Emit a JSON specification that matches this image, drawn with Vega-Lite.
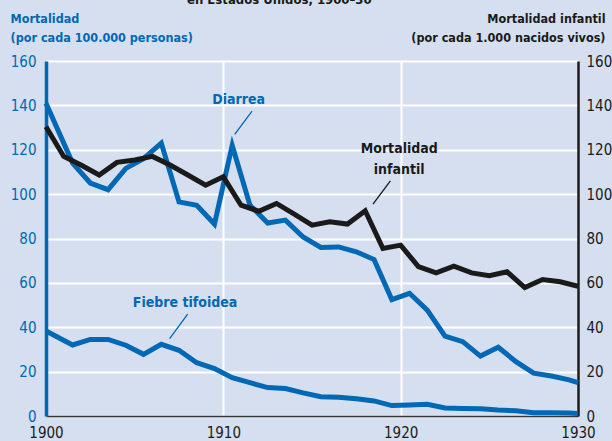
{
  "$schema": "https://vega.github.io/schema/vega-lite/v6.json",
  "width": 532,
  "height": 355,
  "autosize": "none",
  "padding": {"left": 46, "top": 61, "right": 34, "bottom": 25},
  "background": "#d5dff0",
  "title": {
    "text": "en Estados Unidos, 1900–30",
    "anchor": "start",
    "frame": "group",
    "dx": 141,
    "dy": 9,
    "offset": 1,
    "baseline": "bottom",
    "font": "DejaVu Sans Condensed, sans-serif",
    "fontSize": 13,
    "fontWeight": "bold",
    "color": "#1a1a1a"
  },
  "config": {
    "view": {"stroke": null},
    "font": "DejaVu Sans Condensed, sans-serif",
    "axis": {
      "labelFont": "DejaVu Sans Condensed, sans-serif",
      "labelFontSize": 15,
      "ticks": false,
      "gridColor": "#ffffff",
      "gridWidth": 2,
      "gridOpacity": 1
    }
  },
  "datasets": {
    "blue": [
      {"series": "Diarrea", "year": 1900, "value": 141},
      {"series": "Diarrea", "year": 1901.5, "value": 114},
      {"series": "Diarrea", "year": 1902.5, "value": 105},
      {"series": "Diarrea", "year": 1903.5, "value": 102},
      {"series": "Diarrea", "year": 1904.5, "value": 111.6},
      {"series": "Diarrea", "year": 1905.5, "value": 116},
      {"series": "Diarrea", "year": 1906.5, "value": 123},
      {"series": "Diarrea", "year": 1907.5, "value": 96.5},
      {"series": "Diarrea", "year": 1908.5, "value": 95},
      {"series": "Diarrea", "year": 1909.5, "value": 86.5},
      {"series": "Diarrea", "year": 1910.5, "value": 122},
      {"series": "Diarrea", "year": 1911.5, "value": 95},
      {"series": "Diarrea", "year": 1912.5, "value": 87},
      {"series": "Diarrea", "year": 1913.5, "value": 88.3},
      {"series": "Diarrea", "year": 1914.5, "value": 80.7},
      {"series": "Diarrea", "year": 1915.5, "value": 76},
      {"series": "Diarrea", "year": 1916.5, "value": 76.2},
      {"series": "Diarrea", "year": 1917.5, "value": 74},
      {"series": "Diarrea", "year": 1918.5, "value": 70.5},
      {"series": "Diarrea", "year": 1919.5, "value": 52.5},
      {"series": "Diarrea", "year": 1920.5, "value": 55.3},
      {"series": "Diarrea", "year": 1921.5, "value": 47.7},
      {"series": "Diarrea", "year": 1922.5, "value": 36},
      {"series": "Diarrea", "year": 1923.5, "value": 33.5},
      {"series": "Diarrea", "year": 1924.5, "value": 27},
      {"series": "Diarrea", "year": 1925.5, "value": 31},
      {"series": "Diarrea", "year": 1926.5, "value": 24.5},
      {"series": "Diarrea", "year": 1927.5, "value": 19.3},
      {"series": "Diarrea", "year": 1928.5, "value": 18},
      {"series": "Diarrea", "year": 1929.5, "value": 16.3},
      {"series": "Diarrea", "year": 1930, "value": 15},
      {"series": "Fiebre tifoidea", "year": 1900, "value": 38.3},
      {"series": "Fiebre tifoidea", "year": 1901.5, "value": 32},
      {"series": "Fiebre tifoidea", "year": 1902.5, "value": 34.5},
      {"series": "Fiebre tifoidea", "year": 1903.5, "value": 34.5},
      {"series": "Fiebre tifoidea", "year": 1904.5, "value": 31.9},
      {"series": "Fiebre tifoidea", "year": 1905.5, "value": 27.8},
      {"series": "Fiebre tifoidea", "year": 1906.5, "value": 32.3},
      {"series": "Fiebre tifoidea", "year": 1907.5, "value": 29.6},
      {"series": "Fiebre tifoidea", "year": 1908.5, "value": 24},
      {"series": "Fiebre tifoidea", "year": 1909.5, "value": 21.4},
      {"series": "Fiebre tifoidea", "year": 1910.5, "value": 17.3},
      {"series": "Fiebre tifoidea", "year": 1911.5, "value": 15},
      {"series": "Fiebre tifoidea", "year": 1912.5, "value": 12.8},
      {"series": "Fiebre tifoidea", "year": 1913.5, "value": 12.4},
      {"series": "Fiebre tifoidea", "year": 1914.5, "value": 10.4},
      {"series": "Fiebre tifoidea", "year": 1915.5, "value": 8.7},
      {"series": "Fiebre tifoidea", "year": 1916.5, "value": 8.5},
      {"series": "Fiebre tifoidea", "year": 1917.5, "value": 7.8},
      {"series": "Fiebre tifoidea", "year": 1918.5, "value": 6.8},
      {"series": "Fiebre tifoidea", "year": 1919.5, "value": 4.7},
      {"series": "Fiebre tifoidea", "year": 1920.5, "value": 5},
      {"series": "Fiebre tifoidea", "year": 1921.5, "value": 5.3},
      {"series": "Fiebre tifoidea", "year": 1922.5, "value": 3.6},
      {"series": "Fiebre tifoidea", "year": 1923.5, "value": 3.4},
      {"series": "Fiebre tifoidea", "year": 1924.5, "value": 3.3},
      {"series": "Fiebre tifoidea", "year": 1925.5, "value": 2.7},
      {"series": "Fiebre tifoidea", "year": 1926.5, "value": 2.4},
      {"series": "Fiebre tifoidea", "year": 1927.5, "value": 1.5},
      {"series": "Fiebre tifoidea", "year": 1928.5, "value": 1.5},
      {"series": "Fiebre tifoidea", "year": 1929.5, "value": 1.3},
      {"series": "Fiebre tifoidea", "year": 1930, "value": 1.1}
    ],
    "infant": [
      {"series": "Mortalidad infantil", "year": 1900, "value": 130.4},
      {"series": "Mortalidad infantil", "year": 1901, "value": 117},
      {"series": "Mortalidad infantil", "year": 1902, "value": 113},
      {"series": "Mortalidad infantil", "year": 1903, "value": 108.6},
      {"series": "Mortalidad infantil", "year": 1904, "value": 114.3},
      {"series": "Mortalidad infantil", "year": 1905, "value": 115.4},
      {"series": "Mortalidad infantil", "year": 1906, "value": 117},
      {"series": "Mortalidad infantil", "year": 1907, "value": 113.1},
      {"series": "Mortalidad infantil", "year": 1908, "value": 108.6},
      {"series": "Mortalidad infantil", "year": 1909, "value": 104},
      {"series": "Mortalidad infantil", "year": 1910, "value": 107.8},
      {"series": "Mortalidad infantil", "year": 1911, "value": 95},
      {"series": "Mortalidad infantil", "year": 1912, "value": 92.3},
      {"series": "Mortalidad infantil", "year": 1913, "value": 95.8},
      {"series": "Mortalidad infantil", "year": 1914, "value": 91},
      {"series": "Mortalidad infantil", "year": 1915, "value": 86},
      {"series": "Mortalidad infantil", "year": 1916, "value": 87.5},
      {"series": "Mortalidad infantil", "year": 1917, "value": 86.5},
      {"series": "Mortalidad infantil", "year": 1918, "value": 92.5},
      {"series": "Mortalidad infantil", "year": 1919, "value": 75.5},
      {"series": "Mortalidad infantil", "year": 1920, "value": 77},
      {"series": "Mortalidad infantil", "year": 1921, "value": 67.3},
      {"series": "Mortalidad infantil", "year": 1922, "value": 64.5},
      {"series": "Mortalidad infantil", "year": 1923, "value": 67.5},
      {"series": "Mortalidad infantil", "year": 1924, "value": 64.5},
      {"series": "Mortalidad infantil", "year": 1925, "value": 63.2},
      {"series": "Mortalidad infantil", "year": 1926, "value": 65},
      {"series": "Mortalidad infantil", "year": 1927, "value": 57.9},
      {"series": "Mortalidad infantil", "year": 1928, "value": 61.5},
      {"series": "Mortalidad infantil", "year": 1929, "value": 60.5},
      {"series": "Mortalidad infantil", "year": 1930, "value": 58.5}
    ],
    "leaders": [
      {"series": "Diarrea", "year": 1911.62, "value": 137.4},
      {"series": "Diarrea", "year": 1910.64, "value": 126.9},
      {"series": "Mortalidad infantil", "year": 1919.42, "value": 106},
      {"series": "Mortalidad infantil", "year": 1918.44, "value": 95.5},
      {"series": "Fiebre tifoidea", "year": 1907.99, "value": 45.9},
      {"series": "Fiebre tifoidea", "year": 1906.97, "value": 34.9}
    ],
    "labels": [
      {"series": "Diarrea", "label": "Diarrea", "year": 1910.86, "value": 142.4},
      {"series": "Mortalidad infantil", "label": "Mortalidad\ninfantil", "year": 1919.92, "value": 120.4},
      {"series": "Fiebre tifoidea", "label": "Fiebre tifoidea", "year": 1907.84, "value": 51}
    ]
  },
  "encoding": {
    "x": {
      "field": "year",
      "type": "quantitative",
      "scale": {"domain": [1900, 1930], "nice": false, "zero": false},
      "axis": {
        "title": null,
        "values": [1900, 1910, 1920, 1930],
        "format": "d",
        "grid": true,
        "labelFlush": false,
        "domainColor": "#333333",
        "domainWidth": 1.5,
        "labelColor": "#1a1a1a",
        "labelPadding": 9,
        "labelFontSize": 15
      }
    },
    "color": {
      "field": "series",
      "type": "nominal",
      "scale": {
        "domain": ["Diarrea", "Fiebre tifoidea", "Mortalidad infantil"],
        "range": ["#0068b4", "#0068b4", "#1a1a1a"]
      },
      "legend": null
    }
  },
  "layer": [
    {
      "data": {"name": "blue"},
      "mark": {"type": "line", "strokeWidth": 5, "strokeJoin": "miter", "strokeCap": "butt"},
      "encoding": {
        "y": {
          "field": "value",
          "type": "quantitative",
          "scale": {"domain": [0, 160], "nice": false},
          "axis": {
            "orient": "left",
            "values": [0, 20, 40, 60, 80, 100, 120, 140, 160],
            "grid": true,
            "domainColor": "#0068b4",
            "domainWidth": 3.5,
            "labelColor": "#0068b4",
            "labelPadding": 10,
            "title": ["Mortalidad", "(por cada 100.000 personas)"],
            "titleAngle": 0,
            "titleAlign": "left",
            "titleBaseline": "top",
            "titleX": -36,
            "titleY": -49,
            "titleColor": "#0068b4",
            "titleFont": "DejaVu Sans Condensed, sans-serif",
            "titleFontSize": 12.5,
            "titleFontWeight": "bold",
            "titleLineHeight": 19
          }
        }
      }
    },
    {
      "data": {"name": "infant"},
      "mark": {"type": "line", "strokeWidth": 5, "strokeJoin": "miter", "strokeCap": "butt"},
      "encoding": {
        "y": {
          "field": "value",
          "type": "quantitative",
          "scale": {"domain": [0, 160], "nice": false},
          "axis": {
            "orient": "right",
            "values": [0, 20, 40, 60, 80, 100, 120, 140, 160],
            "grid": false,
            "domainColor": "#1a1a1a",
            "domainWidth": 2.5,
            "labelColor": "#1a1a1a",
            "labelPadding": 8,
            "title": ["Mortalidad infantil", "(por cada 1.000 nacidos vivos)"],
            "titleAngle": 0,
            "titleAlign": "right",
            "titleBaseline": "top",
            "titleX": 27,
            "titleY": -49,
            "titleColor": "#1a1a1a",
            "titleFont": "DejaVu Sans Condensed, sans-serif",
            "titleFontSize": 12.5,
            "titleFontWeight": "bold",
            "titleLineHeight": 19
          }
        }
      }
    },
    {
      "data": {"name": "leaders"},
      "mark": {"type": "line", "strokeWidth": 1.3},
      "encoding": {
        "y": {"field": "value", "type": "quantitative", "scale": {"domain": [0, 160], "nice": false}, "axis": null}
      }
    },
    {
      "data": {"name": "labels"},
      "mark": {
        "type": "text",
        "fontSize": 14,
        "fontWeight": "bold",
        "align": "center",
        "baseline": "middle",
        "lineBreak": "\n",
        "lineHeight": 21
      },
      "encoding": {
        "y": {"field": "value", "type": "quantitative", "scale": {"domain": [0, 160], "nice": false}, "axis": null},
        "text": {"field": "label"}
      }
    }
  ],
  "resolve": {"scale": {"y": "independent"}, "axis": {"y": "independent"}}
}
